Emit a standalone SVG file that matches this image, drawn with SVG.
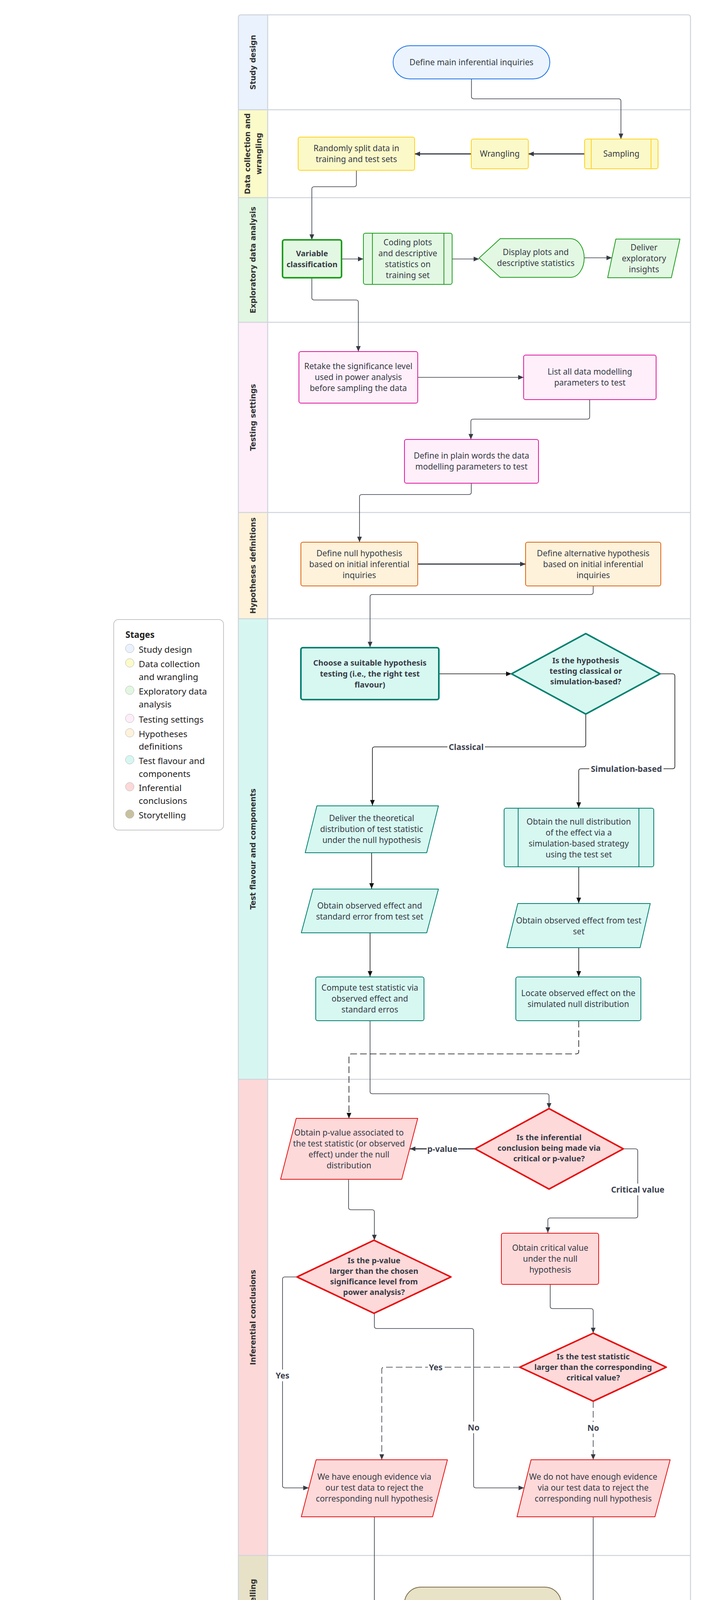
<svg xmlns="http://www.w3.org/2000/svg" width="1799" height="4265" viewBox="0 0 1799 4265">
<style>
.lh{font-family:"DejaVu Sans",sans-serif;font-weight:bold;font-size:19px;fill:#333;text-anchor:middle;dominant-baseline:central}
.t{font-family:"Noto Sans","Open Sans",sans-serif;font-size:21px;fill:#363b45;text-anchor:middle}
.b{font-weight:bold;font-size:20px}
.lg{font-family:"Noto Sans","Open Sans",sans-serif;font-size:22.5px;fill:#222}
.lgb{font-weight:bold;font-size:22.5px}
.e{fill:none;stroke:#363b45;stroke-width:1.6}
.k{stroke:#111}
.thick{stroke-width:3}
.dash{stroke-dasharray:17 8}
.lbl{font-family:"Noto Sans","Open Sans",sans-serif;font-size:21px;font-weight:bold;fill:#3d4350;text-anchor:middle;dominant-baseline:central}
.lbg{fill:#fff}
.sep{stroke:#cfd4dc;stroke-width:2.5}
.blue{fill:#ebf4fe;stroke:#1a73e8;stroke-width:2}
.yel{fill:#fbf9c8;stroke:#ffd21a;stroke-width:2}
.grn{fill:#e3f8e3;stroke:#1e9e1e;stroke-width:2}
.pink{fill:#feeffa;stroke:#e014a0;stroke-width:2}
.org{fill:#fef2db;stroke:#e0620e;stroke-width:2}
.teal{fill:#d7f8f1;stroke:#00806f;stroke-width:2}
.red{fill:#fed9da;stroke:#e81010;stroke-width:2}
.khk{fill:#e8e2c7;stroke:#7d6e4c;stroke-width:2}
.w4{stroke-width:4}
.lc{stroke:#bbb;stroke-width:1}
</style>
<defs>
<marker id="ar" markerUnits="userSpaceOnUse" markerWidth="14" markerHeight="12" refX="14" refY="6" orient="auto">
<path d="M0,0 L14,6 L0,12 z" fill="#363b45"/>
</marker>
<marker id="ark" markerUnits="userSpaceOnUse" markerWidth="14" markerHeight="12" refX="14" refY="6" orient="auto">
<path d="M0,0 L14,6 L0,12 z" fill="#111"/>
</marker>
</defs>
<rect x="0" y="0" width="1799" height="4265" fill="#fff"/>

<g id="lanes">
<rect x="611" y="39" width="74" height="242" fill="#eaf2fd"/>
<rect x="611" y="281" width="74" height="225" fill="#fbfac9"/>
<rect x="611" y="506" width="74" height="319" fill="#e1f7e1"/>
<rect x="611" y="825" width="74" height="487" fill="#fdeef9"/>
<rect x="611" y="1312" width="74" height="272" fill="#fef2da"/>
<rect x="611" y="1584" width="74" height="1179" fill="#d6f7f1"/>
<rect x="611" y="2763" width="74" height="1219" fill="#fdd8d8"/>
<rect x="611" y="3982" width="74" height="245" fill="#e7e2c7"/>
<line class="sep" x1="685" y1="38" x2="685" y2="4228"/>
<line class="sep" x1="610" y1="281" x2="1767" y2="281"/>
<line class="sep" x1="610" y1="506" x2="1767" y2="506"/>
<line class="sep" x1="610" y1="825" x2="1767" y2="825"/>
<line class="sep" x1="610" y1="1312" x2="1767" y2="1312"/>
<line class="sep" x1="610" y1="1584" x2="1767" y2="1584"/>
<line class="sep" x1="610" y1="2763" x2="1767" y2="2763"/>
<line class="sep" x1="610" y1="3982" x2="1767" y2="3982"/>
<rect x="610" y="38" width="1157" height="4190" rx="6" fill="none" class="sep"/>
<text class="lh" transform="translate(647,159.5) rotate(-90)">Study design</text>
<text class="lh" transform="translate(633,393.5) rotate(-90)">Data collection and</text>
<text class="lh" transform="translate(662,393.5) rotate(-90)">wrangling</text>
<text class="lh" transform="translate(647,665.5) rotate(-90)">Exploratory data analysis</text>
<text class="lh" transform="translate(647,1068.5) rotate(-90)">Testing settings</text>
<text class="lh" transform="translate(647,1448) rotate(-90)">Hypotheses definitions</text>
<text class="lh" transform="translate(647,2173.5) rotate(-90)">Test flavour and components</text>
<text class="lh" transform="translate(647,3372.5) rotate(-90)">Inferential conclusions</text>
<text class="lh" transform="translate(647,4105) rotate(-90)">Storytelling</text>
</g>

<g id="legend">
<rect x="291" y="1586" width="281" height="539" rx="12" fill="#fff" stroke="#b5b5b5" stroke-width="1.5"/>
<text class="lg lgb" x="321" y="1633" fill="#000">Stages</text>
<circle class="lc" cx="332" cy="1660" r="11" fill="#eaf2fd"/>
<text class="lg" x="355" y="1671">Study design</text>
<circle class="lc" cx="332" cy="1697" r="11" fill="#fbfac9"/>
<text class="lg" x="355" y="1708">Data collection</text>
<text class="lg" x="355" y="1741">and wrangling</text>
<circle class="lc" cx="332" cy="1767" r="11" fill="#e1f7e1"/>
<text class="lg" x="355" y="1778">Exploratory data</text>
<text class="lg" x="355" y="1811">analysis</text>
<circle class="lc" cx="332" cy="1839" r="11" fill="#fdeef9"/>
<text class="lg" x="355" y="1850">Testing settings</text>
<circle class="lc" cx="332" cy="1876" r="11" fill="#fef2da"/>
<text class="lg" x="355" y="1887">Hypotheses</text>
<text class="lg" x="355" y="1919">definitions</text>
<circle class="lc" cx="332" cy="1945" r="11" fill="#d6f7f1"/>
<text class="lg" x="355" y="1956">Test flavour and</text>
<text class="lg" x="355" y="1989">components</text>
<circle class="lc" cx="332" cy="2014" r="11" fill="#fdd8d8"/>
<text class="lg" x="355" y="2025">Inferential</text>
<text class="lg" x="355" y="2058">conclusions</text>
<circle class="lc" cx="332" cy="2084" r="11" fill="#c8c1a0"/>
<text class="lg" x="355" y="2095">Storytelling</text>
</g>

<g id="connectors">
<path class="e" marker-end="url(#ar)" d="M1206.5,202 L1206.5,247 Q1206.5,253 1212.5,253 L1583,253 Q1589,253 1589,259 L1589,356"/>
<path class="e thick" marker-end="url(#ar)" d="M1496,394 L1352,394"/>
<path class="e thick" marker-end="url(#ar)" d="M1206,394 L1061,394"/>
<path class="e" marker-end="url(#ar)" d="M912,436 L912,472 Q912,478 906,478 L804,478 Q798,478 798,484 L798,614"/>
<path class="e" marker-end="url(#ar)" d="M874,663 L930,663"/>
<path class="e" marker-end="url(#ar)" d="M1157,663 L1226,663"/>
<path class="e" marker-end="url(#ar)" d="M1495,660 L1566,660"/>
<path class="e" marker-end="url(#ar)" d="M798,711 L798,762 Q798,768 804,768 L911,768 Q917,768 917,774 L917,900"/>
<path class="e" marker-end="url(#ar)" d="M1069,966 L1340,966"/>
<path class="e" marker-end="url(#ar)" d="M1509,1023 L1509,1067 Q1509,1073 1503,1073 L1211,1073 Q1205,1073 1205,1079 L1205,1125"/>
<path class="e" marker-end="url(#ar)" d="M1206,1237 L1206,1260 Q1206,1266 1200,1266 L926,1266 Q920,1266 920,1272 L920,1388"/>
<path class="e thick" marker-end="url(#ar)" d="M1069,1444 L1345,1444"/>
<path class="e" marker-end="url(#ar)" d="M1518,1500 L1518,1516 Q1518,1522 1512,1522 L953,1522 Q947,1522 947,1528 L947,1657"/>
<path class="e k" marker-end="url(#ark)" d="M1123,1725 L1309,1725"/>
<path class="e k" marker-end="url(#ark)" d="M1499,1828 L1499,1906 Q1499,1912 1493,1912 L959,1912 Q953,1912 953,1918 L953,2062"/>
<path class="e k" marker-end="url(#ark)" d="M1689,1725 L1721,1725 Q1727,1725 1727,1731 L1727,1962 Q1727,1968 1721,1968 L1487,1968 Q1481,1968 1481,1974 L1481,2068"/>
<path class="e k" marker-end="url(#ark)" d="M951,2183 L951,2275"/>
<path class="e k" marker-end="url(#ark)" d="M947,2388 L947,2500"/>
<path class="e k" marker-end="url(#ark)" d="M1481,2219 L1481,2312"/>
<path class="e k" marker-end="url(#ark)" d="M1481,2426 L1481,2500"/>
<path class="e" marker-end="url(#ar)" d="M947,2613 L947,2794 Q947,2800 953,2800 L1399,2800 Q1405,2800 1405,2806 L1405,2838"/>
<path class="e k dash" stroke-width="2" marker-end="url(#ark)" d="M1481,2613 L1481,2692 Q1481,2698 1475,2698 L899,2698 Q893,2698 893,2704 L893,2863"/>
<path class="e thick" marker-end="url(#ar)" d="M1216,2941 L1049,2941"/>
<path class="e" marker-end="url(#ar)" d="M1595,2941 L1626,2941 Q1632,2941 1632,2947 L1632,3112 Q1632,3118 1626,3118 L1408,3118 Q1402,3118 1402,3124 L1402,3156"/>
<path class="e" marker-end="url(#ar)" d="M892,3019 L892,3091 Q892,3097 898,3097 L952,3097 Q958,3097 958,3103 L958,3175"/>
<path class="e" marker-end="url(#ar)" d="M1408,3288 L1408,3344 Q1408,3350 1414,3350 L1512,3350 Q1518,3350 1518,3356 L1518,3413"/>
<path class="e" marker-end="url(#ar)" d="M760,3269 L729,3269 Q723,3269 723,3275 L723,3803 Q723,3809 729,3809 L790,3809"/>
<path class="e" marker-end="url(#ar)" d="M958,3362 L958,3395 Q958,3401 964,3401 L1206,3401 Q1212,3401 1212,3407 L1212,3803 Q1212,3809 1218,3809 L1341,3809"/>
<path class="e dash" stroke-width="2" marker-end="url(#ar)" d="M1330,3500 L983,3500 Q977,3500 977,3506 L977,3737"/>
<path class="e dash" stroke-width="2" marker-end="url(#ar)" d="M1518,3587 L1518,3737"/>
<path class="e" marker-end="url(#ar)" d="M958,3883 L958,4100 Q958,4106 964,4106 L1035,4106"/>
<path class="e" marker-end="url(#ar)" d="M1518,3883 L1518,4100 Q1518,4106 1512,4106 L1436,4106"/>
<rect class="lbg" x="1145" y="1898" width="96" height="28"/>
<text class="lbl" x="1193" y="1912">Classical</text>
<rect class="lbg" x="1508" y="1954" width="190" height="28"/>
<text class="lbl" x="1603" y="1968">Simulation-based</text>
<rect class="lbg" x="1092" y="2927" width="80" height="28"/>
<text class="lbl" x="1132" y="2941">p-value</text>
<rect class="lbg" x="1566" y="3030" width="132" height="30"/>
<text class="lbl" x="1632" y="3045" fill="#4a4f5a">Critical value</text>
<rect class="lbg" x="703" y="3506" width="40" height="30"/>
<text class="lbl" x="723" y="3521">Yes</text>
<rect class="lbg" x="1196" y="3639" width="32" height="30"/>
<text class="lbl" x="1212" y="3654">No</text>
<rect class="lbg" x="1095" y="3486" width="40" height="28"/>
<text class="lbl" x="1115" y="3500">Yes</text>
<rect class="lbg" x="1502" y="3640" width="32" height="30"/>
<text class="lbl" x="1518" y="3655">No</text>
</g>

<g id="n-define-inquiries">
<rect class="blue" x="1006" y="117" width="401" height="85" rx="42.5"/>
<text class="t" x="1206.5" y="167">Define main inferential inquiries</text>
</g>
<g id="n-sampling">
<rect class="yel" x="1496" y="356" width="188" height="76" rx="5"/>
<line class="yel" x1="1513" y1="356" x2="1513" y2="432"/>
<line class="yel" x1="1666" y1="356" x2="1666" y2="432"/>
<text class="t" x="1590" y="401">Sampling</text>
</g>
<g id="n-wrangling">
<rect class="yel" x="1206" y="356" width="146" height="76" rx="5"/>
<text class="t" x="1279" y="401">Wrangling</text>
</g>
<g id="n-split">
<rect class="yel" x="763" y="351" width="298" height="85" rx="5"/>
<text class="t" x="912"><tspan x="912" y="387">Randomly split data in</tspan><tspan x="912" y="415">training and test sets</tspan></text>
</g>
<g id="n-varclass">
<rect class="grn w4" x="723" y="614" width="151" height="97" rx="5" stroke="#008000"/>
<text class="t b" x="798.5"><tspan x="798.5" y="656">Variable</tspan><tspan x="798.5" y="684">classification</tspan></text>
</g>
<g id="n-coding">
<rect class="grn" x="930" y="597" width="227" height="131" rx="5"/>
<line class="grn" x1="953" y1="597" x2="953" y2="728"/>
<line class="grn" x1="1136" y1="597" x2="1136" y2="728"/>
<text class="t" x="1043.5"><tspan x="1043.5" y="628">Coding plots</tspan><tspan x="1043.5" y="656">and descriptive</tspan><tspan x="1043.5" y="684">statistics on</tspan><tspan x="1043.5" y="712">training set</tspan></text>
</g>
<g id="n-display">
<path class="grn" d="M1226,660.5 L1280,611 L1460,611 A35,49.5 0 0 1 1460,710 L1280,710 Z"/>
<text class="t" x="1371"><tspan x="1371" y="653">Display plots and</tspan><tspan x="1371" y="681">descriptive statistics</tspan></text>
</g>
<g id="n-insights">
<path class="grn" stroke-linejoin="round" d="M1576,612 L1740,612 L1718,711 L1555,711 Z"/>
<text class="t" x="1648"><tspan x="1648" y="641">Deliver</tspan><tspan x="1648" y="669">exploratory</tspan><tspan x="1648" y="697">insights</tspan></text>
</g>
<g id="n-retake">
<rect class="pink" x="765" y="900" width="304" height="132" rx="5"/>
<text class="t" x="917"><tspan x="917" y="945">Retake the significance level</tspan><tspan x="917" y="973">used in power analysis</tspan><tspan x="917" y="1001">before sampling the data</tspan></text>
</g>
<g id="n-list">
<rect class="pink" x="1340" y="909" width="339" height="114" rx="5"/>
<text class="t" x="1509.5"><tspan x="1509.5" y="959">List all data modelling</tspan><tspan x="1509.5" y="987">parameters to test</tspan></text>
</g>
<g id="n-plain">
<rect class="pink" x="1035" y="1125" width="343" height="112" rx="5"/>
<text class="t" x="1206.5"><tspan x="1206.5" y="1174">Define in plain words the data</tspan><tspan x="1206.5" y="1202">modelling parameters to test</tspan></text>
</g>
<g id="n-null">
<rect class="org" x="770" y="1388" width="299" height="112" rx="5"/>
<text class="t" x="919.5"><tspan x="919.5" y="1424">Define null hypothesis</tspan><tspan x="919.5" y="1452">based on initial inferential</tspan><tspan x="919.5" y="1480">inquiries</tspan></text>
</g>
<g id="n-alt">
<rect class="org" x="1345" y="1388" width="346" height="112" rx="5"/>
<text class="t" x="1518"><tspan x="1518" y="1424">Define alternative hypothesis</tspan><tspan x="1518" y="1452">based on initial inferential</tspan><tspan x="1518" y="1480">inquiries</tspan></text>
</g>
<g id="n-choose">
<rect class="teal w4" x="770" y="1658" width="353" height="133" rx="5"/>
<text class="t b" x="946.5"><tspan x="946.5" y="1704">Choose a suitable hypothesis</tspan><tspan x="946.5" y="1732">testing (i.e., the right test</tspan><tspan x="946.5" y="1760">flavour)</tspan></text>
</g>
<g id="n-flavour-q">
<polygon class="teal w4" stroke-linejoin="round" points="1499,1622 1689,1725 1499,1828 1309,1725"/>
<text class="t b" x="1499"><tspan x="1499" y="1698">Is the hypothesis</tspan><tspan x="1499" y="1725">testing classical or</tspan><tspan x="1499" y="1752">simulation-based?</tspan></text>
</g>
<g id="n-theoretical">
<path class="teal" stroke-linejoin="round" d="M811,2063 L1122,2063 L1092,2183 L781,2183 Z"/>
<text class="t" x="951"><tspan x="951" y="2102">Deliver the theoretical</tspan><tspan x="951" y="2130">distribution of test statistic</tspan><tspan x="951" y="2158">under the null hypothesis</tspan></text>
</g>
<g id="n-obs-se">
<path class="teal" stroke-linejoin="round" d="M801,2276 L1122,2276 L1092,2388 L771,2388 Z"/>
<text class="t" x="946"><tspan x="946" y="2326">Obtain observed effect and</tspan><tspan x="946" y="2354">standard error from test set</tspan></text>
</g>
<g id="n-compute">
<rect class="teal" x="808" y="2501" width="277" height="112" rx="5"/>
<text class="t" x="946.5"><tspan x="946.5" y="2536">Compute test statistic via</tspan><tspan x="946.5" y="2564">observed effect and</tspan><tspan x="946.5" y="2592">standard erros</tspan></text>
</g>
<g id="n-nulldist">
<rect class="teal" x="1290" y="2069" width="383" height="150" rx="5"/>
<line class="teal" x1="1326" y1="2069" x2="1326" y2="2219"/>
<line class="teal" x1="1635" y1="2069" x2="1635" y2="2219"/>
<text class="t" x="1481"><tspan x="1481" y="2111">Obtain the null distribution</tspan><tspan x="1481" y="2139">of the effect via a</tspan><tspan x="1481" y="2167">simulation-based strategy</tspan><tspan x="1481" y="2195">using the test set</tspan></text>
</g>
<g id="n-obs">
<path class="teal" stroke-linejoin="round" d="M1325,2313 L1664,2313 L1638,2426 L1297,2426 Z"/>
<text class="t" x="1481"><tspan x="1481" y="2364">Obtain observed effect from test</tspan><tspan x="1481" y="2392">set</tspan></text>
</g>
<g id="n-locate">
<rect class="teal" x="1320" y="2501" width="320" height="112" rx="5"/>
<text class="t" x="1480"><tspan x="1480" y="2550">Locate observed effect on the</tspan><tspan x="1480" y="2578">simulated null distribution</tspan></text>
</g>
<g id="n-pvalue">
<path class="red" stroke-linejoin="round" d="M758,2863 L1069,2863 L1028,3019 L718,3019 Z"/>
<text class="t" x="893"><tspan x="893" y="2907">Obtain p-value associated to</tspan><tspan x="893" y="2935">the test statistic (or observed</tspan><tspan x="893" y="2963">effect) under the null</tspan><tspan x="893" y="2991">distribution</tspan></text>
</g>
<g id="n-way-q">
<polygon class="red w4" stroke-linejoin="round" points="1405,2838 1595,2941 1405,3044 1216,2941"/>
<text class="t b" x="1405"><tspan x="1405" y="2919">Is the inferential</tspan><tspan x="1405" y="2946">conclusion being made via</tspan><tspan x="1405" y="2973">critical or p-value?</tspan></text>
</g>
<g id="n-critical">
<rect class="red" x="1283" y="3157" width="249" height="131" rx="5"/>
<text class="t" x="1408"><tspan x="1408" y="3202">Obtain critical value</tspan><tspan x="1408" y="3230">under the null</tspan><tspan x="1408" y="3258">hypothesis</tspan></text>
</g>
<g id="n-p-q">
<polygon class="red w4" stroke-linejoin="round" points="957,3175 1154,3269 957,3362 760,3269"/>
<text class="t b" x="957"><tspan x="957" y="3234">Is the p-value</tspan><tspan x="957" y="3261">larger than the chosen</tspan><tspan x="957" y="3288">significance level from</tspan><tspan x="957" y="3315">power analysis?</tspan></text>
</g>
<g id="n-stat-q">
<polygon class="red w4" stroke-linejoin="round" points="1518,3413 1705,3500 1518,3587 1330,3500"/>
<text class="t b" x="1518"><tspan x="1518" y="3480">Is the test statistic</tspan><tspan x="1518" y="3507">larger than the corresponding</tspan><tspan x="1518" y="3534">critical value?</tspan></text>
</g>
<g id="n-reject">
<path class="red" stroke-linejoin="round" d="M809,3737 L1145,3737 L1107,3883 L771,3883 Z"/>
<text class="t" x="958"><tspan x="958" y="3788">We have enough evidence via</tspan><tspan x="958" y="3816">our test data to reject the</tspan><tspan x="958" y="3844">corresponding null hypothesis</tspan></text>
</g>
<g id="n-noreject">
<path class="red" stroke-linejoin="round" d="M1359,3737 L1715,3737 L1676,3883 L1323,3883 Z"/>
<text class="t" x="1518"><tspan x="1518" y="3788">We do not have enough evidence</tspan><tspan x="1518" y="3816">via our test data to reject the</tspan><tspan x="1518" y="3844">corresponding null hypothesis</tspan></text>
</g>
<g id="n-conclusion">
<rect class="khk" x="1035" y="4063" width="401" height="84" rx="42"/>
<text class="t b" x="1235.5" y="4112">Deliver significance conclusion</text>
</g>
</svg>
